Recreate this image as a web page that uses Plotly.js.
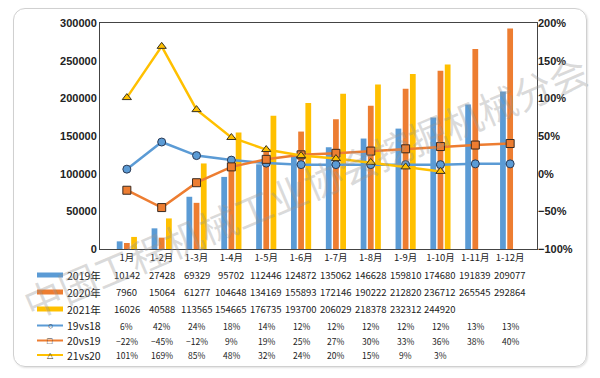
<!DOCTYPE html>
<html><head><meta charset="utf-8">
<script src="https://cdn.plot.ly/plotly-3.0.1.min.js"></script>
<style>
body{margin:0;background:#fff;}
#wrap{position:relative;width:600px;height:378px;}
#chart{width:600px;height:378px;}
#frame{position:absolute;left:13px;top:8px;width:572px;height:357px;border:1.5px solid #d0d0d0;border-radius:12px;pointer-events:none;box-shadow:1px 1px 2px rgba(0,0,0,0.12);}
</style></head>
<body><div id="wrap"><div id="chart"></div><div id="frame"></div></div>
<script>
const categories = ['1月','1-2月','1-3月','1-4月','1-5月','1-6月','1-7月','1-8月','1-9月','1-10月','1-11月','1-12月'];
const sales2019 = [10142,27428,69329,95702,112446,124872,135062,146628,159810,174680,191839,209077];
const sales2020 = [7960,15064,61277,104648,134169,155893,172146,190222,212820,236712,265545,292864];
const sales2021 = [16026,40588,113565,154665,176735,193700,206029,218378,232312,244920];
const g19vs18 = [6,42,24,18,14,12,12,12,12,12,13,13];
const g20vs19 = [-22,-45,-12,9,19,25,27,30,33,36,38,40];
const g21vs20 = [101,169,85,48,32,24,20,15,9,3];
const seriesNames = ['2019年','2020年','2021年','19vs18','20vs19','21vs20'];
const blue='#5B9BD5', orange='#ED7D31', yellow='#FFC000';

const traces = [
 {type:'bar', x:categories, y:sales2019, name:seriesNames[0], marker:{color:blue}},
 {type:'bar', x:categories, y:sales2020, name:seriesNames[1], marker:{color:orange}},
 {type:'bar', x:categories.slice(0,sales2021.length), y:sales2021, name:seriesNames[2], marker:{color:yellow}},
 {type:'scatter', mode:'lines+markers', x:categories, y:g19vs18, yaxis:'y2', name:seriesNames[3],
  line:{color:blue,width:2.5}, marker:{symbol:'circle',size:8,color:blue,line:{color:'#2b3a55',width:1}}},
 {type:'scatter', mode:'lines+markers', x:categories, y:g20vs19, yaxis:'y2', name:seriesNames[4],
  line:{color:orange,width:2.5}, marker:{symbol:'square',size:8,color:orange,line:{color:'#3a2a20',width:1}}},
 {type:'scatter', mode:'lines+markers', x:categories.slice(0,g21vs20.length), y:g21vs20, yaxis:'y2', name:seriesNames[5],
  line:{color:yellow,width:2.5}, marker:{symbol:'triangle-up',size:8,color:yellow,line:{color:'#3a3320',width:1}}}
];

const plotTop=23, plotBottom=249, H=plotBottom-plotTop;
function py(px){return (plotBottom-px)/H;}
const rowY=[275,292,309,325.5,340.5,355];
const annotations=[];
const shapes=[];
const tableRows=[
 {vals:sales2019, fmt:v=>String(v), size:9.5},
 {vals:sales2020, fmt:v=>String(v), size:9.5},
 {vals:sales2021, fmt:v=>String(v), size:9.5},
 {vals:g19vs18, fmt:v=>(v<0?'−'+(-v):v)+'%', size:8.5},
 {vals:g20vs19, fmt:v=>(v<0?'−'+(-v):v)+'%', size:8.5},
 {vals:g21vs20, fmt:v=>(v<0?'−'+(-v):v)+'%', size:8.5}
];
tableRows.forEach((r,ri)=>{
  r.vals.forEach((v,ci)=>{
    annotations.push({xref:'x',yref:'paper',x:ci,y:py(rowY[ri]),text:r.fmt(v),showarrow:false,
      font:{family:'Noto Sans CJK SC, Noto Sans, sans-serif',size:r.size,color:'#222'},xanchor:'center',yanchor:'middle'});
  });
  annotations.push({xref:'paper',yref:'paper',x:(65-100)/437,y:py(rowY[ri]),text:seriesNames[ri],showarrow:false,
    font:{family:'Noto Sans CJK SC, Noto Sans, sans-serif',size:10.5,color:'#222'},xanchor:'left',yanchor:'middle'});
});
const keyColors=[blue,orange,yellow,blue,orange,yellow];
const keySyms=['circle','square','triangle-up'];
for(let i=0;i<6;i++){
  const x0=(37-100)/437, x1=(63-100)/437, yy=py(rowY[i]);
  shapes.push({type:'line',xref:'paper',yref:'paper',x0:x0,x1:x1,y0:yy,y1:yy,
    line:{color:keyColors[i],width:i<3?5:2}});
}
// marker glyphs for line legend keys
const keyMarkerTraces=[3,4,5].map((ti,k)=>({type:'scatter',mode:'text',x:[null],y:[null],showlegend:false}));
annotations.push(
 {xref:'paper',yref:'paper',x:(50-100)/437,y:py(rowY[3]),text:'○',showarrow:false,font:{size:9,color:'#1f3550'},xanchor:'center',yanchor:'middle'},
 {xref:'paper',yref:'paper',x:(50-100)/437,y:py(rowY[4]),text:'□',showarrow:false,font:{size:9,color:'#3a2a20'},xanchor:'center',yanchor:'middle'},
 {xref:'paper',yref:'paper',x:(50-100)/437,y:py(rowY[5]),text:'△',showarrow:false,font:{size:8,color:'#3a3320'},xanchor:'center',yanchor:'middle'}
);
// watermark
annotations.push({xref:'paper',yref:'paper',x:0.47,y:0.28,text:'中国工程机械工业协会挖掘机械分会',showarrow:false,
  textangle:-23,font:{family:'Noto Sans CJK SC, sans-serif',size:38,color:'rgba(150,150,150,0.35)'},xanchor:'center',yanchor:'middle'});

const layout={
  width:600,height:378,
  margin:{l:100,r:63,t:23,b:129},
  paper_bgcolor:'#fff',plot_bgcolor:'#fff',
  showlegend:false,
  barmode:'group',bargap:0.38,bargroupgap:0.2,
  font:{family:'Liberation Sans, Arial, sans-serif',color:'#222'},
  xaxis:{type:'category',showline:true,mirror:true,linecolor:'#444',linewidth:1,ticks:'',
    tickfont:{family:'Noto Sans CJK SC, sans-serif',size:9.5,color:'#222'},showgrid:false},
  yaxis:{range:[0,300000],dtick:50000,showgrid:false,showline:true,mirror:true,linecolor:'#444',linewidth:1,
    tickfont:{family:'Liberation Sans, Arial, sans-serif',size:11,weight:'bold',color:'#222'},ticks:'',tickformat:'d',zeroline:false},
  yaxis2:{overlaying:'y',side:'right',range:[-100,200],dtick:50,ticksuffix:'%',showgrid:false,zeroline:false,showline:false,
    tickfont:{family:'Liberation Sans, Arial, sans-serif',size:11,weight:'bold',color:'#222'},ticks:''},
  annotations:annotations,shapes:shapes
};
Plotly.newPlot('chart',traces,layout,{displayModeBar:false,staticPlot:true});
</script></body></html>
